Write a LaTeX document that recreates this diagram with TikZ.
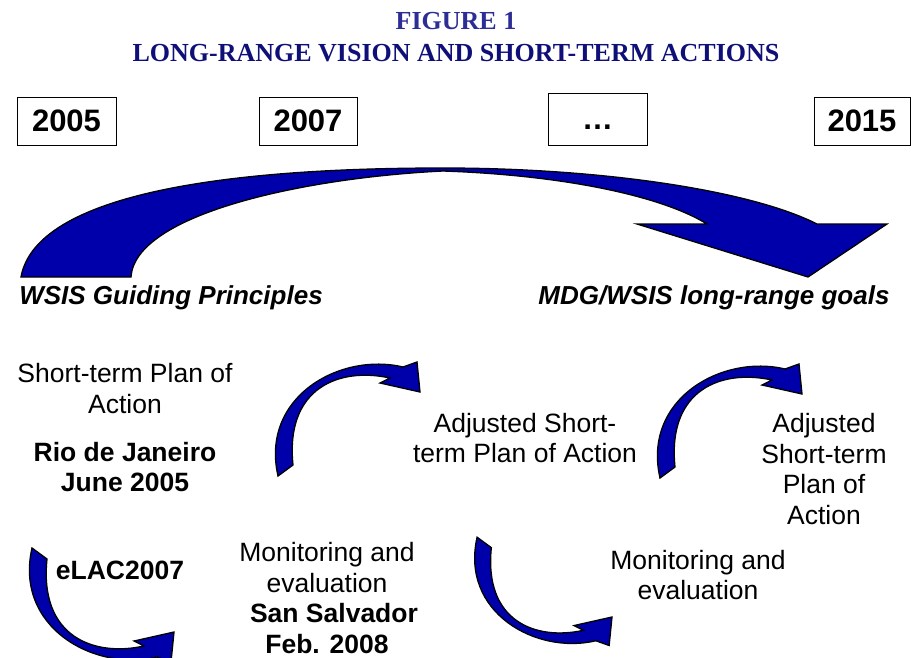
\documentclass[tikz,border=0pt]{standalone}
\usepackage{fontspec}
\setmainfont{Liberation Sans}
\newfontfamily\titlefont{Liberation Serif}
\definecolor{arrowblue}{RGB}{0,0,170}
\definecolor{figblue}{RGB}{45,45,150}
\definecolor{titleblue}{RGB}{15,15,120}

\tikzset{
  bluearrow/.style={fill=arrowblue,draw=black,line width=1.3pt,line join=miter},
  yearbox/.style={draw=black,line width=1pt,inner sep=0pt,
    font=\fontsize{31}{36}\selectfont\bfseries},
  body/.style={align=center,inner sep=0pt,font=\fontsize{26.5}{30.5}\selectfont},
  bodybold/.style={body,font=\fontsize{26.5}{30.5}\selectfont\bfseries},
  heading/.style={inner sep=0pt,text=titleblue,font=\fontsize{26}{30}\selectfont\titlefont\bfseries},
  goal/.style={inner sep=0pt,font=\fontsize{26}{30}\selectfont\bfseries\itshape},
  % small curved arrow, tip at the origin, pointing right and down
  curlarrow/.pic={
    \draw[bluearrow] (-142,84) .. controls (-160,5) and (-80,-40) .. (-17,-25)
      -- (-3,-30) -- (0,0) -- (-40,-9) -- (-30,-14)
      .. controls (-80,-25) and (-135,-5) .. (-127,73) -- cycle;
  }
}

\begin{document}
\begin{tikzpicture}[x=1pt,y=-1pt]
\useasboundingbox (0,0) rectangle (911,657);
\clip (0,0) rectangle (911,657);

% heading
\node[heading,text=figblue] (fig) at (456,21) {FIGURE 1};
\node[heading] (title) at (456,53) {LONG-RANGE VISION AND SHORT-TERM ACTIONS};

% years
\node[yearbox,minimum width=99pt,minimum height=48pt] (y2005) at (66.5,121) {2005};
\node[yearbox,minimum width=98pt,minimum height=48pt] (y2007) at (308,121) {2007};
\node[yearbox,minimum width=99pt,minimum height=52pt] (ydots) at (597.5,119) {\vphantom{0}…};
\node[yearbox,minimum width=96pt,minimum height=48pt] (y2015) at (862,121) {2015};

% long-range arrow
\draw[bluearrow] (21,277) .. controls (35,200) and (200,168) .. (443,168)
  .. controls (600,168) and (750,190) .. (817,224)
  -- (887,224) -- (808,277) -- (637,224) -- (707,224)
  .. controls (660,195) and (560,175) .. (443,171)
  .. controls (300,178) and (135,215) .. (131,277) -- cycle;

\node[goal] (wsis) at (171,298) {WSIS Guiding Principles};
\node[goal] (mdg) at (714,298) {MDG/WSIS long-range goals};

% short-term cycle
\node[body] (plan) at (125,388.5) {Short-term Plan of\\Action};
\node[bodybold] (rio) at (125,467) {Rio de Janeiro\\June 2005};
\node[bodybold] (elac) at (120,570) {eLAC2007};
\node[body] (mon1) at (327,598) {Monitoring and\\evaluation\\\hspace*{14pt}\textbf{San Salvador}\\\textbf{Feb. 2008}};
\node[body] (adj1) at (525,438) {Adjusted Short-\\term Plan of Action};
\node[body] (adj2) at (824,469) {Adjusted\\Short-term\\Plan of\\Action};
\node[body] (mon2) at (698,575) {Monitoring and\\evaluation};

% curved arrows
\pic at (420,392) {curlarrow};
\pic at (802,394) {curlarrow};
\pic[yscale=-1] at (174,632) {curlarrow};
\pic[yscale=-0.95,xscale=0.95] at (612,617) {curlarrow};
\end{tikzpicture}
\end{document}
